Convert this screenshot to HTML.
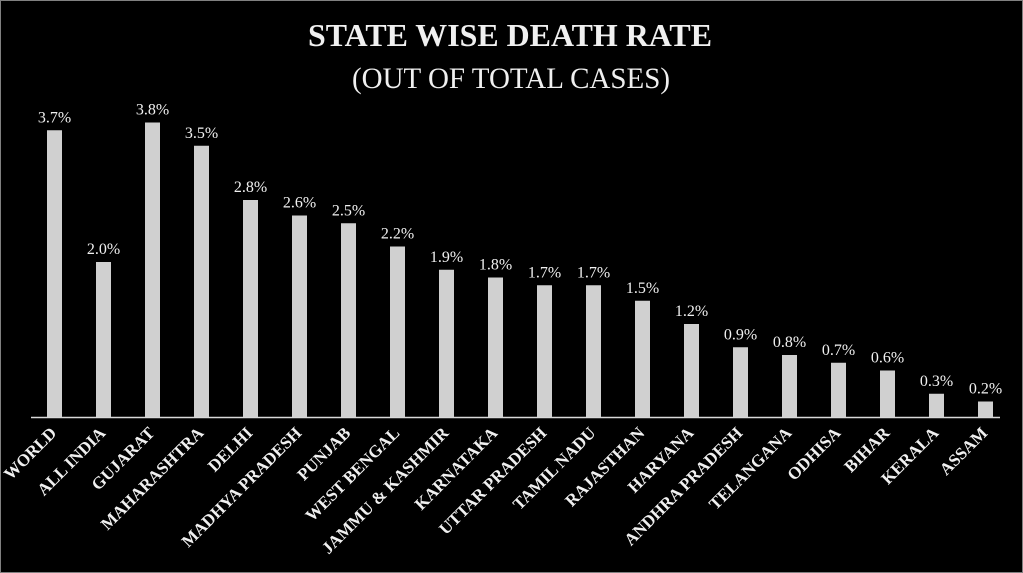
<!DOCTYPE html>
<html><head><meta charset="utf-8"><style>
html,body{margin:0;padding:0;background:#000;}
svg{display:block;}
text{font-family:"Liberation Serif",serif;fill:#f0f0f0;}
</style></head><body>
<svg width="1023" height="573" viewBox="0 0 1023 573" xmlns="http://www.w3.org/2000/svg">
<rect x="0.5" y="0.5" width="1022" height="572" fill="#000" stroke="#808080" stroke-width="1"/>
<text x="510" y="46" font-size="32" font-weight="bold" text-anchor="middle" textLength="404" lengthAdjust="spacingAndGlyphs">STATE WISE DEATH RATE</text>
<text x="511" y="88" font-size="30" text-anchor="middle" textLength="318" lengthAdjust="spacingAndGlyphs">(OUT OF TOTAL CASES)</text>
<line x1="31" y1="417.5" x2="1000" y2="417.5" stroke="#d9d9d9" stroke-width="1.5"/>
<g fill="#d0d0d0" id="bars"></g>
<g id="lbl"></g>
</svg>
<script>
(function(){
var names=["WORLD","ALL INDIA","GUJARAT","MAHARASHTRA","DELHI","MADHYA PRADESH","PUNJAB","WEST BENGAL","JAMMU & KASHMIR","KARNATAKA","UTTAR PRADESH","TAMIL NADU","RAJASTHAN","HARYANA","ANDHRA PRADESH","TELANGANA","ODHISA","BIHAR","KERALA","ASSAM"];
var vals=[3.7,2.0,3.8,3.5,2.8,2.6,2.5,2.2,1.9,1.8,1.7,1.7,1.5,1.2,0.9,0.8,0.7,0.6,0.3,0.2];
var ns="http://www.w3.org/2000/svg",b=document.getElementById("bars"),l=document.getElementById("lbl");
for(var i=0;i<20;i++){
 var cx=54.5+49*i,ty=417-vals[i]*77.5;
 var r=document.createElementNS(ns,"rect");r.setAttribute("x",cx-7.5);r.setAttribute("y",ty);r.setAttribute("width",15);r.setAttribute("height",417-ty);r.setAttribute("fill","#d0d0d0");b.appendChild(r);
 var t=document.createElementNS(ns,"text");t.setAttribute("x",cx);t.setAttribute("y",ty-8);t.setAttribute("font-size","16");t.setAttribute("text-anchor","middle");t.textContent=vals[i].toFixed(1)+"%";l.appendChild(t);
 var n=document.createElementNS(ns,"text");n.setAttribute("font-size","17");n.setAttribute("font-weight","bold");n.setAttribute("text-anchor","end");
 n.setAttribute("transform","translate("+(cx+3)+",434) rotate(-45)");n.textContent=names[i];l.appendChild(n);
}
})();
</script>
</body></html>
